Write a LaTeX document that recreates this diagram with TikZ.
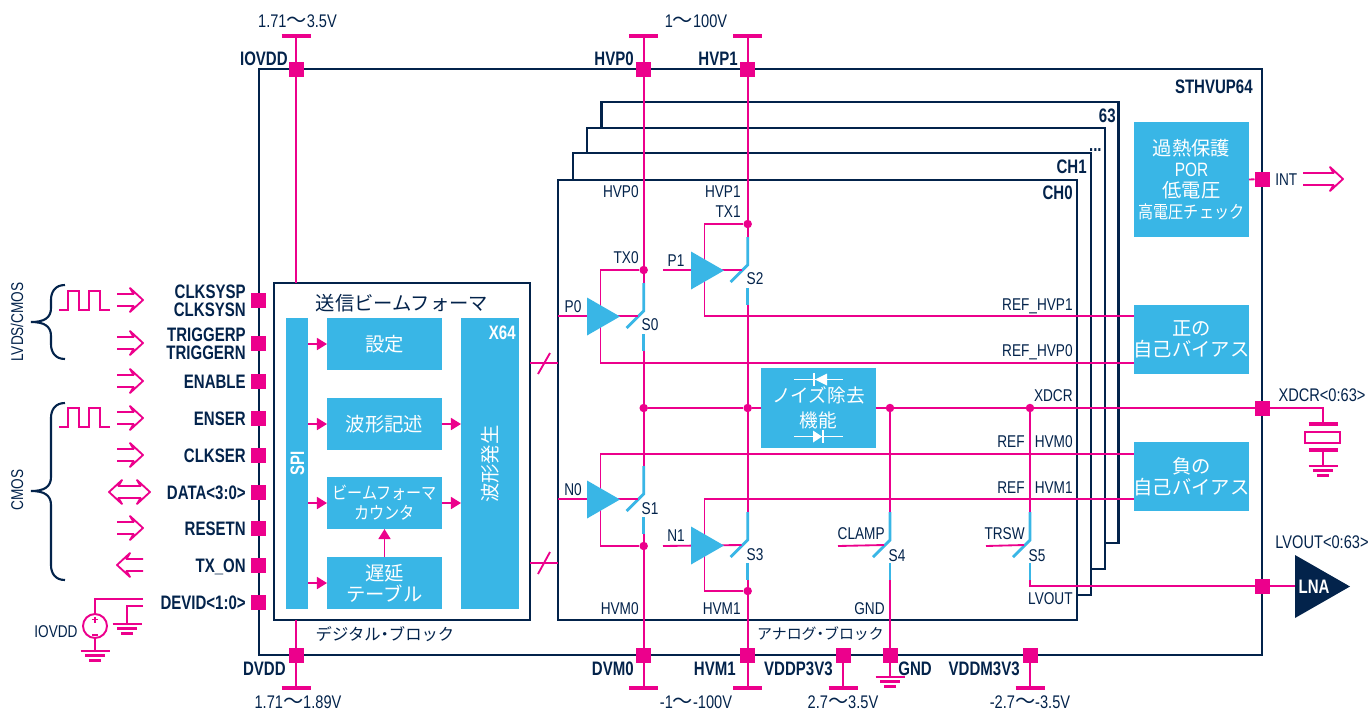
\documentclass[tikz,border=0pt]{standalone}
\usepackage{fontspec}
\setmainfont[FakeStretch=0.8,BoldFeatures={FakeStretch=0.77}]{Liberation Sans}
\newfontfamily\jpfont{Noto Sans CJK JP}
\newfontfamily\jpnarrow[FakeStretch=0.86]{Noto Sans CJK JP}
\usetikzlibrary{arrows.meta}
\definecolor{stnavy}{HTML}{03234B}
\definecolor{stpink}{HTML}{EC008C}
\definecolor{stblue}{HTML}{39B6E6}
\newcommand{\jpmid}{\jpfont\fontsize{11pt}{12pt}\selectfont}
\newcommand{\jpsmall}{\jpnarrow\fontsize{10pt}{11.5pt}\selectfont}
\newcommand{\wavy}{{\jpfont\fontsize{11.5pt}{12pt}\selectfont 〜}}
\tikzset{
  frame/.style={draw=stnavy,fill=white,line width=1.3pt,inner sep=0pt,outer sep=0pt},
  bluebox/.style={fill=stblue,text=white,inner sep=0pt,outer sep=0pt,align=center,font=\jpmid},
  pad/.style={fill=stpink,minimum size=0.3cm,inner sep=0pt,outer sep=0pt},
  dot/.style={circle,fill=stpink,minimum size=0.17cm,inner sep=0pt,outer sep=0pt},
  wire/.style={draw=stpink,line width=1.05pt},
  arr/.style={wire,-{Triangle[length=5.7pt,width=6.8pt]}},
  sw/.style={draw=stblue,line width=1.6pt},
  lab/.style={text=stnavy,inner sep=0pt,font=\fontsize{9.7pt}{11pt}\selectfont,text height=6.9pt,text depth=0pt},
  voltlab/.style={lab,font=\fontsize{10.4pt}{12pt}\selectfont},
  blab/.style={text=stnavy,inner sep=0pt,font=\bfseries\fontsize{11.1pt}{12pt}\selectfont,text height=8pt,text depth=0pt},
  wlab/.style={blab,text=white},
  jplab/.style={text=stnavy,inner sep=0pt},
  brace/.style={draw=stnavy,line width=1.2pt},
  switchpic/.pic={
    \draw[sw] (0,0) -- (0,28) -- (-17,45);
    \draw[sw] (0,51) -- (0,68);
    \coordinate (-top) at (0,0);
    \coordinate (-bot) at (0,68);
    \coordinate (-in) at (-6,33);
  },
  amp/.pic={\fill[stblue] (0,-19) -- (33,0) -- (0,19) -- cycle;},
  railbar/.pic={\draw[stpink,line width=1.9pt] (-14.5,0) -- (14.5,0);},
  gnd/.pic={
    \draw[stpink,line width=1.5pt] (-14.5,0) -- (14.5,0);
    \draw[stpink,line width=1.5pt] (-10,4.7) -- (10,4.7);
    \draw[stpink,line width=1.5pt] (-6,9.4) -- (6,9.4);
  },
  openarrow/.pic={
    \draw[wire,line join=round] (-#1,-6) -- (-9.5,-6) -- (-13,-12) -- (0,0) -- (-13,12) -- (-9.5,6) -- (-#1,6);
  },
  dblarrow/.pic={
    \draw[wire,line join=round] (-20.5,0) -- (-7.5,-12) -- (-11,-6) -- (11,-6) -- (7.5,-12) -- (20.5,0) -- (7.5,12) -- (11,6) -- (-11,6) -- (-7.5,12) -- cycle;
  },
  pulsepic/.pic={
    \draw[wire] (0,0) -- (9,0) -- (9,-19) -- (20,-19) -- (20,0) -- (30,0) -- (30,-19) -- (41,-19) -- (41,0) -- (51,0);
  },
}
\begin{document}
\begin{tikzpicture}[>=stealth,x=0.02cm,y=-0.02cm]
  \useasboundingbox (0,0) rectangle (1370,711);

  % chip outline and channel stack
  \node[frame,minimum width=20.06cm,minimum height=11.72cm] (chip) at (760.5,362) {};
  \node[frame,minimum width=10.34cm,minimum height=8.82cm] (ch3) at (860,322.5) {};
  \node[frame,minimum width=10.36cm,minimum height=8.82cm] (ch2) at (845.7,348.5) {};
  \node[frame,minimum width=10.36cm,minimum height=8.84cm] (ch1) at (832,374) {};
  \node[frame,minimum width=10.38cm,minimum height=8.8cm] (ch0) at (817.5,400) {};
  \node[frame,minimum width=5.12cm,minimum height=6.74cm] (digital) at (402,451.5) {};

  % digital block
  \node[bluebox,minimum width=0.44cm,minimum height=5.82cm] (spi) at (297,463.5) {};
  \node[bluebox,minimum width=2.3cm,minimum height=1.04cm] (setting) at (384.5,344) {設定};
  \node[bluebox,minimum width=2.3cm,minimum height=1.04cm] (wavedesc) at (384.5,424) {波形記述};
  \node[bluebox,minimum width=2.3cm,minimum height=1.04cm,font=\jpsmall] (counter) at (384.5,503) {ビームフォーマ\\カウンタ};
  \node[bluebox,minimum width=2.3cm,minimum height=1.04cm] (delay) at (384.5,583) {遅延\\テーブル};
  \node[bluebox,minimum width=1.16cm,minimum height=5.82cm] (wavegen) at (490,463.5) {};
  \node[bluebox,rotate=90] (wavegenlab) at (490.5,464) {波形発生};
  \node[wlab,rotate=90] (spilab) at (297,463) {SPI};
  \node[wlab,anchor=east] (x64) at (516,332) {X64};
  \node[text=stnavy,inner sep=0pt,font=\jpmid] (beamlab) at (402,303) {送信ビームフォーマ};

  % analog side blocks
  \node[bluebox,minimum width=2.3cm,minimum height=2.3cm] (overheat) at (1191.5,179.5) {過熱保護\\{\rmfamily POR}\\低電圧\\{\jpnarrow\fontsize{10pt}{11.5pt}\selectfont 高電圧チェック}};
  \node[bluebox,minimum width=2.3cm,minimum height=1.38cm] (posbias) at (1191.5,339.5) {正の\\自己バイアス};
  \node[bluebox,minimum width=2.3cm,minimum height=1.38cm] (negbias) at (1191.5,476.5) {負の\\自己バイアス};
  \node[bluebox,minimum width=2.3cm,minimum height=1.6cm,font=\jpfont\fontsize{10.6pt}{14pt}\selectfont] (noise) at (818.5,408) {ノイズ除去\\機能};
  \draw[white,line width=1pt] (794,379.5) -- (843,379.5);
  \draw[white,line width=1pt] (814,373) -- (814,386);
  \fill[white] (815,379.5) -- (827,373.5) -- (827,385.5) -- cycle;
  \draw[white,line width=1pt] (794,436.5) -- (843,436.5);
  \draw[white,line width=1pt] (823,430) -- (823,443);
  \fill[white] (822,436.5) -- (813,430.5) -- (813,442.5) -- cycle;

  % pads on the chip edge
  \node[pad] (clksys) at (258,300) {};
  \node[pad] (trigger) at (258,343) {};
  \node[pad] (enable) at (258,381) {};
  \node[pad] (enser) at (258,418) {};
  \node[pad] (clkser) at (258,455) {};
  \node[pad] (data) at (258,492) {};
  \node[pad] (resetn) at (258,528) {};
  \node[pad] (txon) at (258,565) {};
  \node[pad] (devid) at (258,602) {};
  \node[pad] (iovdd) at (296,69) {};
  \node[pad] (hvpa) at (643.7,69) {};
  \node[pad] (hvpb) at (747.7,69) {};
  \node[pad] (dvdd) at (296,655) {};
  \node[pad] (dvma) at (643.7,655) {};
  \node[pad] (hvmb) at (747.7,655) {};
  \node[pad] (vddp) at (843,655) {};
  \node[pad] (gndpad) at (890,655) {};
  \node[pad] (vddm) at (1030,655) {};
  \node[pad] (intpad) at (1262,179) {};
  \node[pad] (xdcr) at (1262,408) {};
  \node[pad] (lvout) at (1262,586) {};

  % junctions
  \node[dot] (txa) at (643.7,270) {};
  \node[dot] (txb) at (747.7,224) {};
  \node[dot] (xda) at (643.7,408) {};
  \node[dot] (xdb) at (747.7,408) {};
  \node[dot] (xdc) at (890,408) {};
  \node[dot] (xdd) at (1030,408) {};
  \node[dot] (hvma) at (643.7,546) {};
  \node[dot] (hvmc) at (747.7,591) {};

  % switches
  \pic (sa) at (643.7,283) {switchpic};
  \pic (sb) at (747.7,237) {switchpic};
  \pic (sc) at (643.7,466) {switchpic};
  \pic (sd) at (747.7,512) {switchpic};
  \pic (se) at (890,512) {switchpic};
  \pic (sf) at (1030,512) {switchpic};

  % free ends of the wires
  \coordinate (iovddtop) at (296,36);
  \coordinate (hvpatop) at (643.7,36);
  \coordinate (hvpbtop) at (747.7,36);
  \coordinate (dvddbot) at (296,688);
  \coordinate (dvmabot) at (643.7,688);
  \coordinate (hvmbbot) at (747.7,688);
  \coordinate (vddpbot) at (843,688);
  \coordinate (vddmbot) at (1030,688);
  \coordinate (gndbot) at (890,677);
  \coordinate (loopa) at (600.5,363);
  \coordinate (loopb) at (704.5,316);
  \coordinate (loopc) at (600.5,454);
  \coordinate (loopd) at (704.5,499);
  \coordinate (pina) at (558,316);
  \coordinate (pinb) at (663,270);
  \coordinate (nina) at (558,499);
  \coordinate (ninb) at (663,546);
  \coordinate (clampin) at (838,546);
  \coordinate (trswin) at (986,546);
  \coordinate (busa) at (400,363);
  \coordinate (busb) at (400,563);
  \coordinate (xtaltop) at (1323,424);
  \coordinate (xtalbot) at (1323,450);
  \coordinate (xtalgnd) at (1323,466);
  \coordinate (lna) at (1295,586);
  \coordinate (devida) at (143,599);
  \coordinate (devidb) at (143,606);
  \coordinate (devidgnd) at (127,624);
  \coordinate (vsrcgnd) at (95,651);

  % supply rails
  \draw[wire] (iovddtop) -- (iovdd) -- (iovdd |- digital.north);
  \draw[wire] (dvddbot) -- (dvdd) -- (dvdd |- digital.south);
  \draw[wire] (hvpatop) -- (hvpa) -- (txa) -- (sa-top);
  \draw[wire] (sa-bot) -- (xda) -- (sc-top);
  \draw[wire] (sc-bot) -- (hvma) -- (dvma) -- (dvmabot);
  \draw[wire] (hvpbtop) -- (hvpb) -- (txb) -- (sb-top);
  \draw[wire] (sb-bot) -- (xdb) -- (sd-top);
  \draw[wire] (sd-bot) -- (hvmc) -- (hvmb) -- (hvmbbot);
  \draw[wire] (vddp) -- (vddpbot);
  \draw[wire] (vddm) -- (vddmbot);
  \pic at (iovddtop) {railbar};
  \pic at (hvpatop) {railbar};
  \pic at (hvpbtop) {railbar};
  \pic at (dvddbot) {railbar};
  \pic at (dvmabot) {railbar};
  \pic at (hvmbbot) {railbar};
  \pic at (vddpbot) {railbar};
  \pic at (vddmbot) {railbar};

  % feedback loops to the bias blocks
  \draw[wire] (txa) -| (loopa) -- (loopa -| posbias.west);
  \draw[wire] (txb) -| (loopb) -- (loopb -| posbias.west);
  \draw[wire] (hvma) -| (loopc) -- (loopc -| negbias.west);
  \draw[wire] (hvmc) -| (loopd) -- (loopd -| negbias.west);

  % driver inputs
  \draw[wire] (pina) -- (sa-in);
  \draw[wire] (pinb) -- (sb-in);
  \draw[wire] (nina) -- (sc-in);
  \draw[wire] (ninb) -- (sd-in);
  \draw[wire] (clampin) -- (se-in);
  \draw[wire] (trswin) -- (sf-in);
  \pic at (587,316.5) {amp};
  \pic at (691,270.5) {amp};
  \pic at (587,499.5) {amp};
  \pic at (691,545.5) {amp};

  % XDCR line, clamp and LVOUT
  \draw[wire] (xda) -- (xdb) -- (noise.west);
  \draw[wire] (noise.east) -- (xdc) -- (xdd) -- (xdcr);
  \draw[wire] (xdc) -- (se-top);
  \draw[wire] (se-bot) -- (gndpad) -- (gndbot);
  \pic at (gndbot) {gnd};
  \draw[wire] (xdd) -- (sf-top);
  \draw[wire] (sf-bot) |- (lvout) -- (lna);
  \draw[wire] (overheat.east) -- (intpad);
  \fill[stnavy] (1295,555) -- (1350,586.5) -- (1295,618) -- cycle;
  \node[wlab] (lnalab) at (1314,586) {LNA};

  % transducer
  \draw[wire] (xdcr) -| (xtaltop);
  \pic at (xtaltop) {railbar};
  \node[draw=stpink,line width=1.05pt,minimum width=0.7cm,minimum height=0.21cm,inner sep=0pt] (xtal) at (1322.5,437.5) {};
  \pic at (xtalbot) {railbar};
  \draw[wire] (xtalbot) -- (xtalgnd);
  \pic at (xtalgnd) {gnd};

  % bus between the blocks
  \draw[wire] (busa -| digital.east) -- (busa -| ch0.west);
  \draw[wire] (busb -| digital.east) -- (busb -| ch0.west);
  \draw[wire] (538,374) -- (550,353);
  \draw[wire] (538,574) -- (550,552);

  % arrows in the digital block
  \draw[arr] (spi.east |- setting) -- (setting.west);
  \draw[arr] (spi.east |- wavedesc) -- (wavedesc.west);
  \draw[arr] (spi.east |- counter) -- (counter.west);
  \draw[arr] (spi.east |- delay) -- (delay.west);
  \draw[arr] (wavedesc.east) -- (wavedesc.east -| wavegen.west);
  \draw[arr] (counter.east) -- (counter.east -| wavegen.west);
  \draw[arr] (delay.north) -- (counter.south);

  % DEVID strapping
  \node[draw=stpink,line width=1.1pt,circle,minimum size=0.48cm,inner sep=0pt] (vsrc) at (95,626) {};
  \draw[wire] (devida) -| (vsrc.north);
  \draw[wire] (vsrc.south) -- (vsrcgnd);
  \draw[wire] (devidb) -| (devidgnd);
  \draw[stpink,line width=0.6pt] (92,619.5) -- (98,619.5);
  \draw[stpink,line width=0.6pt] (95,616.5) -- (95,622.5);
  \draw[stpink,line width=1.2pt] (92,635) -- (98,635);
  \pic at (devidgnd) {gnd};
  \pic at (vsrcgnd) {gnd};

  % signal symbols left and right
  \pic at (59,310) {pulsepic};
  \pic at (59,427) {pulsepic};
  \pic at (143,300) {openarrow=26};
  \pic at (143,343) {openarrow=26};
  \pic at (143,381) {openarrow=26};
  \pic at (143,418) {openarrow=26};
  \pic at (143,455) {openarrow=26};
  \pic at (129.5,492) {dblarrow};
  \pic at (143,528) {openarrow=26};
  \pic[xscale=-1] at (117,565) {openarrow=26};
  \pic at (1343,179) {openarrow=40};
  \draw[brace] (65,285) .. controls (55,285) and (51,292) .. (51,300) -- (51,308) .. controls (51,318) and (44,322) .. (31,322) .. controls (44,322) and (51,326) .. (51,336) -- (51,344) .. controls (51,352) and (55,359) .. (65,359);
  \draw[brace] (65,403) .. controls (55,403) and (51,410) .. (51,418) -- (51,477) .. controls (51,487) and (44,491) .. (31,491) .. controls (44,491) and (51,495) .. (51,505) -- (51,565) .. controls (51,573) and (55,580) .. (65,580);
  \node[lab,rotate=90] (lvdslab) at (17,322) {LVDS/CMOS};
  \node[lab,rotate=90] (cmoslab) at (17,490) {CMOS};
  \node[lab] (vsrclab) at (56,631) {IOVDD};

  % pin names
  \node[blab,anchor=east] (lclksysp) at (246,291) {CLKSYSP};
  \node[blab,anchor=east] (lclksysn) at (246,309) {CLKSYSN};
  \node[blab,anchor=east] (ltriggerp) at (246,334) {TRIGGERP};
  \node[blab,anchor=east] (ltriggern) at (246,352) {TRIGGERN};
  \node[blab,anchor=east] (lenable) at (246,381) {ENABLE};
  \node[blab,anchor=east] (lenser) at (246,418) {ENSER};
  \node[blab,anchor=east] (lclkser) at (246,455) {CLKSER};
  \node[blab,anchor=east] (ldata) at (246,492) {DATA<3:0>};
  \node[blab,anchor=east] (lresetn) at (246,528) {RESETN};
  \node[blab,anchor=east] (ltxon) at (246,565) {TX\_ON};
  \node[blab,anchor=east] (ldevid) at (246,602) {DEVID<1:0>};
  \node[blab,anchor=east] (liovdd) at (288,58) {IOVDD};
  \node[blab,anchor=east] (lhvpa) at (634,58) {HVP0};
  \node[blab,anchor=east] (lhvpb) at (738,58) {HVP1};
  \node[blab,anchor=east] (ldvdd) at (286,668) {DVDD};
  \node[blab,anchor=east] (ldvma) at (634,668) {DVM0};
  \node[blab,anchor=east] (lhvmb) at (736,668) {HVM1};
  \node[blab,anchor=east] (lvddp) at (833,668) {VDDP3V3};
  \node[blab,anchor=west] (lgnd) at (898,668) {GND};
  \node[blab,anchor=east] (lvddm) at (1020,668) {VDDM3V3};
  \node[blab,anchor=east] (lchip) at (1253,86) {STHVUP64};
  \node[blab,anchor=east] (lch3) at (1116,115) {63};
  \node[blab,anchor=east] (lch2) at (1102,144) {...};
  \node[blab,anchor=east] (lch1) at (1087,166) {CH1};
  \node[blab,anchor=east] (lch0) at (1073,192) {CH0};

  % voltage ranges
  \node[voltlab] (viovdd) at (297.5,21) {1.71\wavy3.5V};
  \node[voltlab] (vhvp) at (696,21) {1\wavy100V};
  \node[voltlab] (vdvdd) at (298,702.5) {1.71\wavy1.89V};
  \node[voltlab] (vhvm) at (696,702.5) {-1\wavy-100V};
  \node[voltlab] (vvddp) at (843,702.5) {2.7\wavy3.5V};
  \node[voltlab] (vvddm) at (1030,702.5) {-2.7\wavy-3.5V};

  % signal names inside the channel
  \node[lab,anchor=east] (lhvpza) at (639,191) {HVP0};
  \node[lab,anchor=east] (lhvpzb) at (741,191) {HVP1};
  \node[lab,anchor=east] (ltxb) at (741,211) {TX1};
  \node[lab,anchor=east] (ltxa) at (639,257) {TX0};
  \node[lab] (lpa) at (573,306) {P0};
  \node[lab] (lpb) at (676,260) {P1};
  \node[lab] (lna) at (573,489) {N0};
  \node[lab] (lnb) at (676,535) {N1};
  \node[lab] (lsa) at (650,324) {S0};
  \node[lab] (lsb) at (755,278) {S2};
  \node[lab] (lsc) at (650,508) {S1};
  \node[lab] (lsd) at (755,554) {S3};
  \node[lab] (lse) at (897,555) {S4};
  \node[lab] (lsf) at (1037,555) {S5};
  \node[lab,anchor=east] (lrefpb) at (1073,304) {REF\_HVP1};
  \node[lab,anchor=east] (lrefpa) at (1073,350) {REF\_HVP0};
  \node[lab,anchor=east] (lxdcr) at (1073,395) {XDCR};
  \node[lab,anchor=east] (lrefa) at (1025,441) {REF};
  \node[lab,anchor=east] (lhvma) at (1073,441) {HVM0};
  \node[lab,anchor=east] (lrefb) at (1025,487) {REF};
  \node[lab,anchor=east] (lhvmb2) at (1073,487) {HVM1};
  \node[lab,anchor=east] (lclamp) at (885,533) {CLAMP};
  \node[lab,anchor=east] (ltrsw) at (1025,533) {TRSW};
  \node[lab,anchor=east] (llvout) at (1073,598) {LVOUT};
  \node[lab,anchor=east] (lhvmza) at (639,608) {HVM0};
  \node[lab,anchor=east] (lhvmzb) at (741,608) {HVM1};
  \node[lab,anchor=east] (lgndz) at (885,608) {GND};
  \node[lab,anchor=west] (lint) at (1275,179) {INT};
  \node[voltlab] (lxdcro) at (1322,395) {XDCR<0:63>};
  \node[voltlab] (llvouto) at (1322,542) {LVOUT<0:63>};
  \node[jplab,font=\jpfont\fontsize{9.3pt}{11pt}\selectfont] (ldigital) at (385,634) {デジタル\hspace{-.25em}・\hspace{-.25em}ブロック};
  \node[jplab,font=\jpfont\fontsize{8.5pt}{11pt}\selectfont] (lanalog) at (820.5,634) {アナログ\hspace{-.25em}・\hspace{-.25em}ブロック};
\end{tikzpicture}
\end{document}
